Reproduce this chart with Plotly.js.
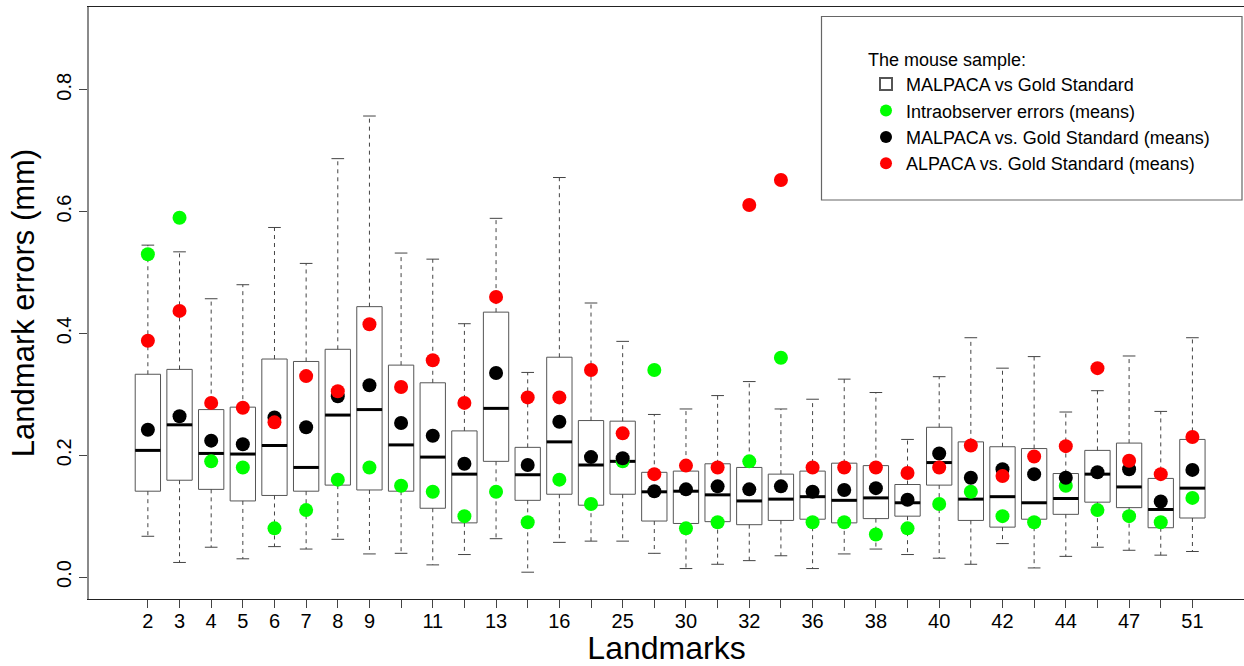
<!DOCTYPE html>
<html>
<head>
<meta charset="utf-8">
<script src="https://cdn.plot.ly/plotly-3.0.1.min.js"></script>
<style>
  html, body { margin: 0; padding: 0; background: #fff; }
  #chart { width: 1244px; height: 666px; }
</style>
</head>
<body>
<div id="chart"></div>
<script>
// Landmark tick labels (blank where the label is skipped to avoid overlap)
const landmarkLabels = ['2','3','4','5','6','7','8','9','','11','','13','','16','','25','','30','','32','','36','','38','','40','','42','','44','','47','','51'];

// MALPACA vs Gold Standard: box statistics per landmark (mm)
const whiskerHigh = [0.545,0.534,0.457,0.480,0.574,0.515,0.687,0.757,0.532,0.522,0.416,0.589,0.336,0.656,0.450,0.387,0.267,0.276,0.298,0.321,0.276,0.292,0.325,0.303,0.226,0.329,0.393,0.343,0.362,0.271,0.306,0.363,0.272,0.393];
const upperQuartile = [0.333,0.341,0.275,0.279,0.358,0.354,0.374,0.444,0.348,0.319,0.240,0.435,0.213,0.361,0.257,0.256,0.172,0.174,0.186,0.180,0.169,0.174,0.187,0.183,0.152,0.246,0.222,0.214,0.211,0.170,0.208,0.220,0.162,0.226];
const medianError = [0.208,0.250,0.203,0.202,0.216,0.180,0.266,0.275,0.217,0.197,0.169,0.277,0.168,0.222,0.184,0.190,0.140,0.141,0.135,0.125,0.128,0.132,0.126,0.130,0.122,0.188,0.128,0.132,0.122,0.129,0.169,0.148,0.111,0.146];
const lowerQuartile = [0.141,0.159,0.144,0.125,0.134,0.141,0.151,0.143,0.141,0.113,0.089,0.190,0.126,0.136,0.118,0.136,0.092,0.088,0.091,0.086,0.093,0.095,0.089,0.096,0.100,0.151,0.093,0.082,0.095,0.103,0.123,0.114,0.081,0.097];
const whiskerLow = [0.067,0.024,0.049,0.030,0.050,0.046,0.062,0.038,0.039,0.020,0.037,0.063,0.008,0.057,0.059,0.059,0.039,0.014,0.021,0.027,0.035,0.014,0.038,0.046,0.037,0.031,0.021,0.055,0.015,0.034,0.049,0.044,0.036,0.042];

// Mean errors per landmark (mm)
const intraobserverMeans = [0.53,0.59,0.19,0.18,0.08,0.11,0.16,0.18,0.15,0.14,0.10,0.14,0.09,0.16,0.12,0.19,0.34,0.08,0.09,0.19,0.36,0.09,0.09,0.07,0.08,0.12,0.14,0.10,0.09,0.15,0.11,0.10,0.09,0.13];
const malpacaMeans = [0.242,0.264,0.224,0.218,0.262,0.246,0.297,0.315,0.253,0.232,0.186,0.335,0.184,0.255,0.197,0.195,0.141,0.144,0.149,0.144,0.149,0.140,0.143,0.146,0.127,0.203,0.163,0.177,0.169,0.163,0.172,0.177,0.124,0.176];
const alpacaMeans = [0.388,0.437,0.286,0.278,0.254,0.330,0.305,0.415,0.312,0.356,0.286,0.460,0.295,0.295,0.340,0.236,0.169,0.183,0.180,0.611,0.652,0.180,0.180,0.180,0.171,0.180,0.216,0.166,0.198,0.215,0.343,0.191,0.169,0.230];

const positions = landmarkLabels.map((_, i) => i + 1);

const BOX_HALF = 0.4;    // half box width in axis units
const CAP_HALF = 0.2;    // half whisker-cap width
const TICK_FONT = 'Liberation Sans Narrow, Arial Narrow, Liberation Sans, Arial, sans-serif';
const TEXT_FONT = 'Liberation Sans, Arial, sans-serif';

// segment helpers: build [a, b, null, ...] sequences from per-box values
function segX(fn) { return positions.flatMap((p, i) => fn(p, i).concat([null])); }

const boxTrace = {
  type: 'box',
  name: 'MALPACA vs Gold Standard',
  x: positions,
  q1: lowerQuartile,
  median: medianError,
  q3: upperQuartile,
  lowerfence: lowerQuartile,
  upperfence: upperQuartile,
  width: 2 * BOX_HALF,
  whiskerwidth: 0,
  fillcolor: '#ffffff',
  line: { color: '#555555', width: 1 },
  boxpoints: false,
  hoverinfo: 'skip'
};

const whiskerTrace = {
  type: 'scatter', mode: 'lines', showlegend: false, hoverinfo: 'skip',
  x: segX(p => [p, p, null, p, p]),
  y: segX((p, i) => [upperQuartile[i], whiskerHigh[i], null, lowerQuartile[i], whiskerLow[i]]),
  line: { color: '#444444', width: 1, dash: '4px,4px' }
};

const capTrace = {
  type: 'scatter', mode: 'lines', showlegend: false, hoverinfo: 'skip',
  x: segX(p => [p - CAP_HALF, p + CAP_HALF, null, p - CAP_HALF, p + CAP_HALF]),
  y: segX((p, i) => [whiskerHigh[i], whiskerHigh[i], null, whiskerLow[i], whiskerLow[i]]),
  line: { color: '#444444', width: 1 }
};

const medianTrace = {
  type: 'scatter', mode: 'lines', showlegend: false, hoverinfo: 'skip',
  x: segX(p => [p - BOX_HALF, p + BOX_HALF]),
  y: segX((p, i) => [medianError[i], medianError[i]]),
  line: { color: '#000000', width: 3 }
};

function meanTrace(name, values, color) {
  return {
    type: 'scatter', mode: 'markers', name: name,
    x: positions, y: values, hoverinfo: 'skip',
    marker: { color: color, size: 14, line: { width: 0 } }
  };
}

const data = [
  boxTrace, whiskerTrace, capTrace, medianTrace,
  meanTrace('Intraobserver errors (means)', intraobserverMeans, '#00ff00'),
  meanTrace('MALPACA vs. Gold Standard (means)', malpacaMeans, '#000000'),
  meanTrace('ALPACA vs. Gold Standard (means)', alpacaMeans, '#ff0000')
];

// plot-area geometry in pixels, used to place the legend frame
const M = { l: 89, r: 0, t: 7, b: 67 };
const W = 1244, H = 666;
const pw = W - M.l - M.r, ph = H - M.t - M.b;
const paperX = px => (px - M.l) / pw;
const paperY = py => (H - M.b - py) / ph;

const layout = {
  width: W, height: H,
  margin: M,
  paper_bgcolor: '#ffffff', plot_bgcolor: '#ffffff',
  showlegend: true,
  hovermode: false,
  xaxis: {
    range: [-0.86, 35.63],
    tickvals: positions, ticktext: landmarkLabels,
    ticks: 'outside', ticklen: 8, tickcolor: '#444444', tickwidth: 1,
    ticklabelstandoff: -4,
    tickfont: { family: TICK_FONT, size: 20, color: '#000000' },
    showline: true, mirror: true, linecolor: '#222222', linewidth: 1,
    showgrid: false, zeroline: false,
    title: { text: 'Landmarks', font: { family: TEXT_FONT, size: 32, color: '#000000' }, standoff: 9 }
  },
  yaxis: {
    range: [-0.036, 0.936],
    tickvals: [0, 0.2, 0.4, 0.6, 0.8], ticktext: ['0.0', '0.2', '0.4', '0.6', '0.8'],
    tickangle: -90,
    ticks: 'outside', ticklen: 8, tickcolor: '#444444', tickwidth: 1,
    tickfont: { family: TICK_FONT, size: 20, color: '#000000' },
    showline: true, mirror: false, linecolor: '#8a8a8a', linewidth: 2,
    showgrid: false, zeroline: false,
    title: { text: 'Landmark errors (mm)', font: { family: TEXT_FONT, size: 31, color: '#000000' }, standoff: 9 }
  },
  legend: {
    x: paperX(866), y: paperY(42.5), xanchor: 'left', yanchor: 'top',
    bgcolor: 'rgba(0,0,0,0)', borderwidth: 0,
    font: { family: TEXT_FONT, size: 18, color: '#000000' },
    title: { text: 'The mouse sample:', font: { family: TEXT_FONT, size: 18, color: '#000000' } },
    itemsizing: 'constant', traceorder: 'normal'
  },
  shapes: [{
    type: 'rect', xref: 'paper', yref: 'paper',
    x0: paperX(821.5), x1: paperX(1242), y0: paperY(200), y1: paperY(16.5),
    line: { color: '#666666', width: 1.2 }, fillcolor: 'rgba(0,0,0,0)', layer: 'below'
  }]
};

Plotly.newPlot('chart', data, layout, { displayModeBar: false, staticPlot: true });
</script>
</body>
</html>
